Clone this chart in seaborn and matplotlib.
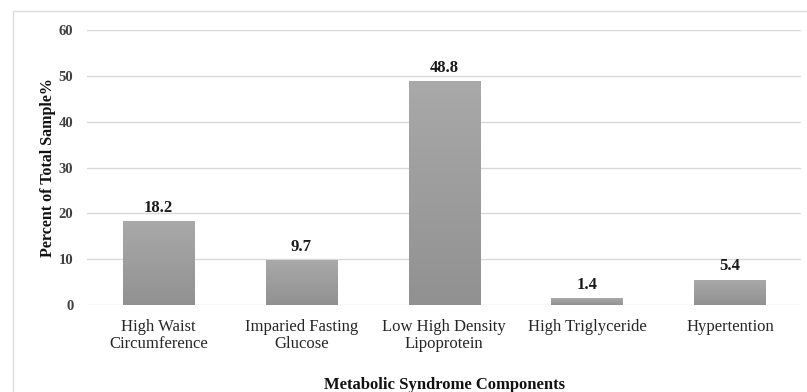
import numpy as np
import pandas as pd
import matplotlib
matplotlib.use("Agg")
import matplotlib.pyplot as plt
from matplotlib.colors import LinearSegmentedColormap
from matplotlib.patches import Rectangle
import seaborn as sns

# data
components = ["High Waist\nCircumference", "Imparied Fasting\nGlucose",
              "Low High Density\nLipoprotein", "High Triglyceride", "Hypertention"]
percent = [18.2, 9.7, 48.8, 1.4, 5.4]
yticks = [0, 10, 20, 30, 40, 50, 60]

df = pd.DataFrame({"Component": components, "Percent": percent})

sns.set_theme(style="white")
plt.rcParams["font.family"] = ["Liberation Serif", "DejaVu Serif"]

fig = plt.figure(figsize=(8.07, 3.92), dpi=100)
ax = fig.add_axes([0.108, 0.222, 0.885, 0.701])

sns.barplot(data=df, x="Component", y="Percent", color="#9e9e9e",
            width=0.5, ax=ax, zorder=2)

# grey gradient fill on each bar (light top, darker bottom)
cmap = LinearSegmentedColormap.from_list("g", ["#919191", "#a9a9a9"])
grad = np.linspace(0, 1, 256).reshape(-1, 1)
for p in ax.patches:
    x0, w, h = p.get_x(), p.get_width(), p.get_height()
    ax.imshow(grad, extent=[x0, x0 + w, 0, h], origin="lower", aspect="auto",
              cmap=cmap, zorder=3)
    p.set_visible(False)

ax.set_xlim(-0.5, len(components) - 0.5)
ax.set_ylim(0, 60)
ax.set_yticks(yticks)
ax.yaxis.grid(True, color="#d9d9d9", linewidth=1.0, zorder=0)
ax.set_axisbelow(True)
for s in ax.spines.values():
    s.set_visible(False)

for i, v in enumerate(percent):
    ax.annotate(f"{v}", (i, v), xytext=(0, 10), textcoords="offset points",
                ha="center", va="center", fontsize=12, fontweight="bold",
                color="#1a1a1a")

ax.tick_params(axis="y", length=0, pad=10, labelsize=10.5, labelcolor="#404040")
for t in ax.get_yticklabels():
    t.set_fontweight("bold")
ax.tick_params(axis="x", length=0, pad=10, labelsize=12, labelcolor="#262626")
for t in ax.get_xticklabels():
    t.set_linespacing(1.1)

ax.set_xlabel("Metabolic Syndrome Components", fontsize=12, fontweight="bold",
              color="#111111", labelpad=18)
ax.set_ylabel("Percent of Total Sample%", fontsize=11.5, fontweight="bold",
              color="#111111", labelpad=2)

# light frame around the chart area
fig.patches.append(Rectangle((13 / 807, -0.02), 1.0, (392 - 11) / 392 + 0.02,
                             transform=fig.transFigure, fill=False,
                             edgecolor="#dcdcdc", linewidth=1.0))

fig.savefig("out.png", dpi=100, facecolor="white")
